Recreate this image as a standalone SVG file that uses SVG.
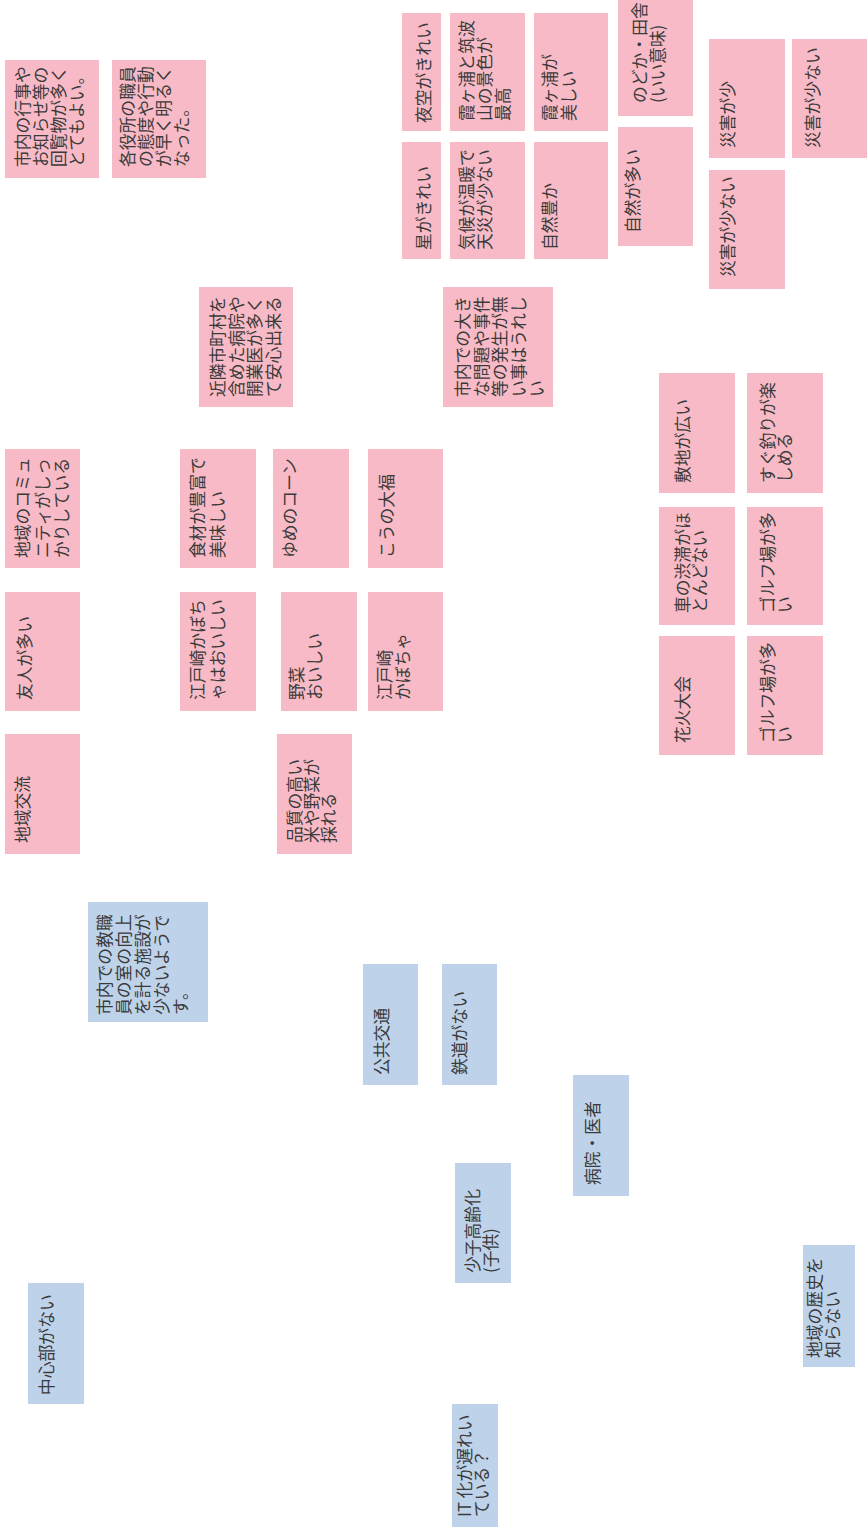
<svg xmlns="http://www.w3.org/2000/svg" width="867" height="1528" viewBox="0 0 867 1528">
<style>
.p{fill:#f8bac6}
.b{fill:#bed3ea}
text{font-family:"Noto Sans CJK JP","Noto Sans",sans-serif;font-size:16.8px;fill:#3a3a3a}
</style>
<rect width="867" height="1528" fill="#ffffff"/>
<g id="n1"><rect class="p" x="5" y="60" width="94" height="118"/><text transform="translate(29,167) rotate(-90)"><tspan x="0">市内の行事や</tspan><tspan x="0" dy="18">お知らせ等の</tspan><tspan x="0" dy="18">回覧物が多く</tspan><tspan x="0" dy="18">とてもよい。</tspan></text></g>
<g id="n2"><rect class="p" x="112" y="60" width="94" height="118"/><text transform="translate(134,167) rotate(-90)"><tspan x="0">各役所の職員</tspan><tspan x="0" dy="18">の態度や行動</tspan><tspan x="0" dy="18">が早く明るく</tspan><tspan x="0" dy="18">なった。</tspan></text></g>
<g id="n3"><rect class="p" x="402" y="13" width="39" height="118"/><text transform="translate(430,123) rotate(-90)">夜空がきれい</text></g>
<g id="n4"><rect class="p" x="450" y="13" width="75" height="118"/><text transform="translate(473,121) rotate(-90)"><tspan x="0">霞ヶ浦と筑波</tspan><tspan x="0" dy="18">山の景色が</tspan><tspan x="0" dy="18">最高</tspan></text></g>
<g id="n5"><rect class="p" x="534" y="13" width="74" height="118"/><text transform="translate(556,121) rotate(-90)"><tspan x="0">霞ヶ浦が</tspan><tspan x="0" dy="19">美しい</tspan></text></g>
<g id="n6"><rect class="p" x="618" y="0" width="75" height="116"/><text transform="translate(646,103) rotate(-90)"><tspan x="0">のどか・田舎</tspan><tspan x="0" dy="18">(いい意味)</tspan></text></g>
<g id="n7"><rect class="p" x="402" y="142" width="39" height="117"/><text transform="translate(430,250) rotate(-90)">星がきれい</text></g>
<g id="n8"><rect class="p" x="450" y="142" width="75" height="117"/><text transform="translate(473,250) rotate(-90)"><tspan x="0">気候が温暖で</tspan><tspan x="0" dy="18">天災が少ない</tspan></text></g>
<g id="n9"><rect class="p" x="534" y="142" width="74" height="117"/><text transform="translate(556,250) rotate(-90)">自然豊か</text></g>
<g id="n10"><rect class="p" x="618" y="127" width="75" height="119"/><text transform="translate(639,233) rotate(-90)">自然が多い</text></g>
<g id="n11"><rect class="p" x="709" y="39" width="76" height="119"/><text transform="translate(734,148) rotate(-90)">災害が少</text></g>
<g id="n12"><rect class="p" x="792" y="39" width="75" height="119"/><text transform="translate(819,148) rotate(-90)">災害が少ない</text></g>
<g id="n13"><rect class="p" x="709" y="170" width="76" height="119"/><text transform="translate(734,277) rotate(-90)">災害が少ない</text></g>
<g id="n14"><rect class="p" x="199" y="287" width="94" height="120"/><text transform="translate(224,397) rotate(-90)"><tspan x="0">近隣市町村を</tspan><tspan x="0" dy="18.5">含めた病院や</tspan><tspan x="0" dy="18.5">開業医が多く</tspan><tspan x="0" dy="18.5">て安心出来る</tspan></text></g>
<g id="n15"><rect class="p" x="443" y="287" width="110" height="120"/><text transform="translate(469,397) rotate(-90)"><tspan x="0">市内での大き</tspan><tspan x="0" dy="18.5">な問題や事件</tspan><tspan x="0" dy="18.5">等の発生が無</tspan><tspan x="0" dy="18.5">い事はうれし</tspan><tspan x="0" dy="18.5">い</tspan></text></g>
<g id="n16"><rect class="p" x="5" y="449" width="75" height="119"/><text transform="translate(29,558) rotate(-90)"><tspan x="0">地域のコミュ</tspan><tspan x="0" dy="19.5">ニティがしっ</tspan><tspan x="0" dy="19.5">かりしている</tspan></text></g>
<g id="n17"><rect class="p" x="180" y="449" width="76" height="119"/><text transform="translate(204,558) rotate(-90)"><tspan x="0">食材が豊富で</tspan><tspan x="0" dy="20">美味しい</tspan></text></g>
<g id="n18"><rect class="p" x="273" y="449" width="76" height="119"/><text transform="translate(296,558) rotate(-90)">ゆめのコーン</text></g>
<g id="n19"><rect class="p" x="368" y="449" width="75" height="119"/><text transform="translate(393,558) rotate(-90)">こうの大福</text></g>
<g id="n20"><rect class="p" x="5" y="592" width="75" height="119"/><text transform="translate(31,700) rotate(-90)">友人が多い</text></g>
<g id="n21"><rect class="p" x="180" y="592" width="76" height="119"/><text transform="translate(204,700) rotate(-90)"><tspan x="0">江戸崎かぼち</tspan><tspan x="0" dy="20">ゃはおいしい</tspan></text></g>
<g id="n22"><rect class="p" x="281" y="592" width="76" height="119"/><text transform="translate(303,700) rotate(-90)"><tspan x="0">野菜</tspan><tspan x="0" dy="18">おいしい</tspan></text></g>
<g id="n23"><rect class="p" x="368" y="592" width="75" height="119"/><text transform="translate(391,700) rotate(-90)"><tspan x="0">江戸崎</tspan><tspan x="0" dy="18">かぼちゃ</tspan></text></g>
<g id="n24"><rect class="p" x="659" y="373" width="76" height="120"/><text transform="translate(689,483) rotate(-90)">敷地が広い</text></g>
<g id="n25"><rect class="p" x="747" y="373" width="76" height="120"/><text transform="translate(774,483) rotate(-90)"><tspan x="0">すぐ釣りが楽</tspan><tspan x="0" dy="17">しめる</tspan></text></g>
<g id="n26"><rect class="p" x="659" y="507" width="76" height="118"/><text transform="translate(689,613) rotate(-90)"><tspan x="0">車の渋滞がほ</tspan><tspan x="0" dy="17">とんどない</tspan></text></g>
<g id="n27"><rect class="p" x="747" y="507" width="76" height="118"/><text transform="translate(774,613) rotate(-90)"><tspan x="0">ゴルフ場が多</tspan><tspan x="0" dy="17">い</tspan></text></g>
<g id="n28"><rect class="p" x="659" y="636" width="76" height="119"/><text transform="translate(689,743) rotate(-90)">花火大会</text></g>
<g id="n29"><rect class="p" x="747" y="636" width="76" height="119"/><text transform="translate(774,743) rotate(-90)"><tspan x="0">ゴルフ場が多</tspan><tspan x="0" dy="17">い</tspan></text></g>
<g id="n30"><rect class="p" x="5" y="734" width="75" height="120"/><text transform="translate(29,843) rotate(-90)">地域交流</text></g>
<g id="n31"><rect class="p" x="277" y="734" width="75" height="120"/><text transform="translate(301,843) rotate(-90)"><tspan x="0">品質の高い</tspan><tspan x="0" dy="17">米や野菜が</tspan><tspan x="0" dy="17">採れる</tspan></text></g>
<g id="n32"><rect class="b" x="88" y="902" width="120" height="120"/><text transform="translate(111,1015) rotate(-90)"><tspan x="0">市内での教職</tspan><tspan x="0" dy="19">員の室の向上</tspan><tspan x="0" dy="19">を計る施設が</tspan><tspan x="0" dy="19">少ないようで</tspan><tspan x="0" dy="19">す。</tspan></text></g>
<g id="n33"><rect class="b" x="363" y="964" width="55" height="121"/><text transform="translate(388,1075) rotate(-90)">公共交通</text></g>
<g id="n34"><rect class="b" x="442" y="964" width="55" height="121"/><text transform="translate(466,1075) rotate(-90)">鉄道がない</text></g>
<g id="n35"><rect class="b" x="573" y="1075" width="56" height="121"/><text transform="translate(599,1185) rotate(-90)">病院・医者</text></g>
<g id="n36"><rect class="b" x="455" y="1163" width="56" height="120"/><text transform="translate(479,1273) rotate(-90)"><tspan x="0">少子高齢化</tspan><tspan x="0" dy="18">(子供)</tspan></text></g>
<g id="n37"><rect class="b" x="28" y="1283" width="56" height="121"/><text transform="translate(53,1395) rotate(-90)">中心部がない</text></g>
<g id="n38"><rect class="b" x="452" y="1404" width="46" height="123"/><text transform="translate(471,1517) rotate(-90)"><tspan x="0">IT 化が遅れい</tspan><tspan x="0" dy="17">ている？</tspan></text></g>
<g id="n39"><rect class="b" x="803" y="1245" width="52" height="122"/><text transform="translate(821,1358) rotate(-90)"><tspan x="0">地域の歴史を</tspan><tspan x="0" dy="18">知らない</tspan></text></g>
<g id="connectors"></g>
</svg>
